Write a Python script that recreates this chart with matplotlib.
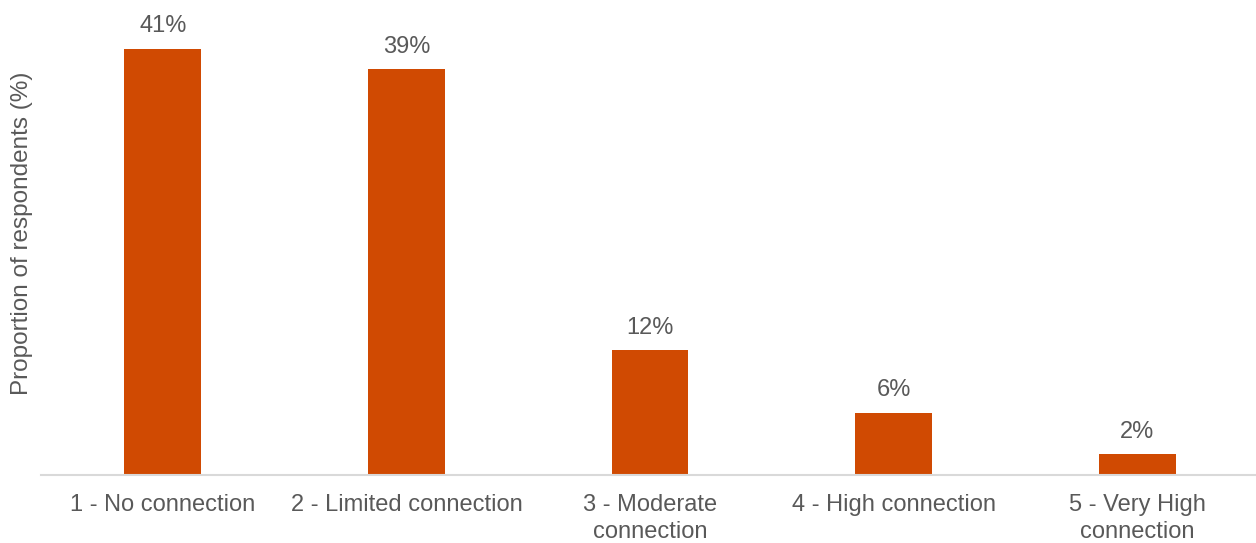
import matplotlib.pyplot as plt

# Share of respondents by level of connection
categories = ["1 - No connection", "2 - Limited connection", "3 - Moderate\nconnection",
              "4 - High connection", "5 - Very High\nconnection"]
shares = [41, 39, 12, 6, 2]

BAR_COLOR = "#D04A02"
TEXT_COLOR = "#595959"

plt.rcParams["font.family"] = ["Liberation Sans", "DejaVu Sans"]

fig = plt.figure(figsize=(12.56, 5.43), dpi=100)
ax = fig.add_axes([41 / 1256, 68 / 543, 1218 / 1256, 468 / 543])

x = range(len(categories))
bars = ax.bar(x, shares, width=0.315, color=BAR_COLOR)

for rect, val in zip(bars, shares):
    ax.annotate(f"{val}%", (rect.get_x() + rect.get_width() / 2, rect.get_height()),
                xytext=(0, 8), textcoords="offset points", ha="center", va="bottom",
                fontsize=17, color=TEXT_COLOR)

ax.set_xlim(-0.5, len(categories) - 0.5)
ax.set_ylim(0, 45)
ax.set_xticks(list(x))
ax.set_xticklabels(categories, fontsize=17, color=TEXT_COLOR, linespacing=1.25)
ax.tick_params(axis="x", length=0, pad=14)
ax.set_yticks([])

for side in ["top", "right", "left"]:
    ax.spines[side].set_visible(False)
ax.spines["bottom"].set_color("#D9D9D9")
ax.spines["bottom"].set_linewidth(1.5)

fig.text(22 / 1256, 1 - 233 / 543, "Proportion of respondents (%)", rotation=90,
         ha="center", va="center", fontsize=17.5, color=TEXT_COLOR)

fig.savefig("out.png", dpi=100)
